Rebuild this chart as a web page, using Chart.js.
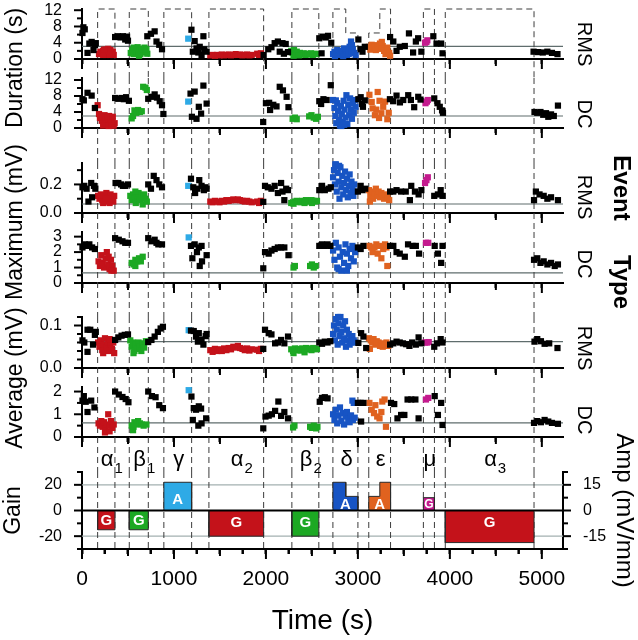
<!DOCTYPE html>
<html>
<head>
<meta charset="utf-8">
<title>Event types</title>
<script src="https://cdn.jsdelivr.net/npm/chart.js@4.4.1/dist/chart.umd.min.js"></script>
<style>
  html, body { margin: 0; padding: 0; background: #fff; }
  #fig { position: relative; width: 638px; height: 640px; overflow: hidden; background: #fff;
         font-family: "Liberation Sans", Arial, Helvetica, sans-serif; color: #000; }
  #fig canvas { position: absolute; left: 0; }
  .lab { position: absolute; white-space: nowrap; line-height: 1; }
  .rot-l { transform: translate(-50%, -50%) rotate(-90deg); }
  .rot-r { transform: translate(-50%, -50%) rotate(90deg); }
  .greek { position: absolute; font-size: 22px; line-height: 22px; white-space: nowrap; }
  .greek sub { font-size: 15px; vertical-align: -7px; margin-left: 1px; }
</style>
</head>
<body>
<div id="fig">
  <canvas id="p0"></canvas>
  <canvas id="p1"></canvas>
  <canvas id="p2"></canvas>
  <canvas id="p3"></canvas>
  <canvas id="p4"></canvas>
  <canvas id="p5"></canvas>
  <canvas id="p6"></canvas>

  <div class="lab rot-l" style="left:14px;top:68px;font-size:23px">Duration (s)</div>
  <div class="lab rot-l" style="left:14px;top:222px;font-size:23px">Maximum (mV)</div>
  <div class="lab rot-l" style="left:14px;top:378px;font-size:23px">Average (mV)</div>

  <div class="lab rot-r" style="left:585px;top:44px;font-size:20px">RMS</div>
  <div class="lab rot-r" style="left:585px;top:114px;font-size:20px">DC</div>
  <div class="lab rot-r" style="left:585px;top:197px;font-size:20px">RMS</div>
  <div class="lab rot-r" style="left:585px;top:264px;font-size:20px">DC</div>
  <div class="lab rot-r" style="left:585px;top:348px;font-size:20px">RMS</div>
  <div class="lab rot-r" style="left:585px;top:420px;font-size:20px">DC</div>

  <div class="lab rot-r" style="left:622px;top:188px;font-size:24px;font-weight:bold">Event</div>
  <div class="lab rot-r" style="left:622px;top:282px;font-size:24px;font-weight:bold">Type</div>
</div>

<script>
// ---- data ----
const TIME_MAX = 5230;

const EVENT_NAMES = ['α', 'β', 'γ', 'α', 'β', 'δ', 'ε', 'μ', 'α'];
const EVENT_SUBS = ['1', '1', '', '2', '2', '', '', '', '3'];
const EVENT_TYPES = ['G', 'G', 'A', 'G', 'G', 'A', 'A', 'G', 'G'];
// [start s, end s, gain]
const EVENT_SEGMENTS = [
  [[170, 358, -15]],
  [[514, 721, -15]],
  [[890, 1192, 22]],
  [[1380, 1975, -20]],
  [[2282, 2575, -20]],
  [[2728, 2868, 22], [2868, 3000, 11]],
  [[3118, 3238, 11], [3238, 3355, 22]],
  [[3712, 3832, 10]],
  [[3950, 4915, -25]]
];
// top of the dashed event boxes, in Duration (s)
const EVENT_BOX_TOP = [[12.3], [12.3], [12.3], [12.3], [12.3], [12.3, 6.4], [6.4, 12.3], [12.3], [12.3]];

const THRESHOLDS = [3.1, 3.0, 0.063, 0.65, 0.062, 0.62];
const GAIN_REF = [20, -20];

const TIME_TICK_LABELS = ['0', '1000', '2000', '3000', '4000', '5000'];
const DUR_TICK_LABELS = ['0', '4', '8', '12'];
const MAX_RMS_TICK_LABELS = ['0.0', '0.2'];
const MAX_DC_TICK_LABELS = ['0', '1', '2', '3'];
const AVG_RMS_TICK_LABELS = ['0.0', '0.1'];
const AVG_DC_TICK_LABELS = ['0', '1', '2'];
const GAIN_TICK_LABELS = ['-20', '0', '20'];
const AMP_TICK_LABELS = ['-15', '0', '15'];

// Duration, RMS
const durRmsOther = [
  [5,6.4],[15,7.8],[30,7.3],[60,1.5],[80,3.8],[105,4.2],[125,2.2],[140,3.4],[150,3.9],
  [360,5.4],[390,5.6],[420,5.3],[445,5.6],[470,4.8],[490,5.5],[500,4.5],
  [710,5.6],[750,6.2],[790,6.8],[810,4.3],[840,3.5],[870,2.4],
  [1190,7.2],[1225,4.4],[1205,1.8],[1245,2.6],[1280,3.0],[1300,1.0],[1320,5.6],[1330,2.4],[1355,1.8],[1265,1.6],
  [1975,1.0],[2025,2.4],[2060,2.9],[2095,3.9],[2130,4.3],[2180,3.9],[2215,3.7],[2150,1.8],[2195,1.3],[2240,1.7],
  [2580,5.1],[2615,5.5],[2650,5.3],[2675,5.7],[2710,4.0],[2605,1.4],
  [3005,4.8],[3030,2.4],[3050,1.8],[3075,3.0],
  [3350,5.4],[3385,4.3],[3420,2.0],[3455,3.0],[3510,3.2],[3555,6.3],[3600,1.6],[3630,4.3],[3655,5.1],[3690,1.8],
  [3820,5.6],[3855,3.8],[3905,3.8],[3920,1.4],
  [4910,1.8],[4960,1.7],[5010,1.6],[5060,1.8],[5110,1.5],[5170,1.2]
];
const durRmsEvents = [
  [[185,1.2],[200,1.8],[215,1.4],[230,2.0],[245,1.6],[260,2.3],[275,1.9],[285,2.5],[300,1.5],[310,2.2],[320,1.3],[335,1.8],[345,1.0],[260,1.0],[300,1.0],[230,1.0],[290,2.0],[240,2.3]],
  [[530,1.5],[545,2.2],[560,1.2],[575,2.6],[590,1.8],[605,2.9],[620,2.0],[635,1.2],[650,2.5],[665,1.6],[680,2.8],[695,1.9],[710,1.3],[560,2.8],[620,0.8],[700,2.4]],
  [[1155,5.0]],
  [[1395,0.9],[1420,1.0],[1445,0.8],[1470,1.0],[1495,0.9],[1520,1.1],[1545,0.9],[1570,1.0],[1595,1.1],[1620,0.9],[1645,1.0],[1670,1.2],[1695,1.0],[1720,1.1],[1745,0.9],[1770,1.0],[1795,1.1],[1820,0.9],[1845,1.0],[1905,1.3],[1925,1.0],[1945,1.4]],
  [[2275,2.0],[2290,1.5],[2305,2.2],[2320,1.3],[2335,1.8],[2350,1.2],[2370,1.5],[2390,1.1],[2410,1.4],[2430,1.0],[2450,1.3],[2470,1.1],[2490,1.4],[2510,1.0],[2530,1.3],[2550,1.2],[2300,0.8],[2360,0.9]],
  [[2730,1.2],[2745,1.8],[2760,1.0],[2775,2.2],[2790,1.5],[2805,1.0],[2820,2.0],[2835,1.3],[2850,2.6],[2865,1.6],[2880,1.0],[2895,2.1],[2910,3.0],[2925,4.3],[2935,3.4],[2945,2.4],[2960,1.5],[2975,1.0],[2750,0.7],[2840,0.7],[2900,1.2],[2930,1.8]],
  [[3120,3.0],[3135,2.3],[3150,3.5],[3165,2.6],[3180,3.1],[3195,2.2],[3210,3.4],[3225,2.7],[3240,3.8],[3255,2.5],[3270,3.2],[3285,2.0],[3300,1.2],[3320,2.8],[3340,1.5],[3350,0.8],[3260,4.2]],
  [[3730,4.0],[3755,4.6],[3745,4.2]],
  []
];

// Duration, DC
const durDcOther = [
  [5,7.2],[20,6.9],[60,8.8],[105,8.1],[140,5.0],
  [360,7.5],[395,7.3],[430,7.5],[455,7.2],[480,7.7],[510,6.8],
  [720,7.3],[755,7.8],[790,8.4],[815,7.6],[845,6.7],[870,5.7],[885,3.5],
  [1180,8.6],[1225,9.1],[1320,10.6],[1195,2.8],[1245,2.3],[1270,5.3],[1295,3.6],[1355,6.1],
  [1970,1.5],[2000,6.2],[2035,6.3],[2045,4.5],[2080,5.8],[2115,5.4],[2150,10.3],[2185,9.4],[2225,7.8],[2245,5.2],
  [2580,6.7],[2600,6.0],[2625,7.2],[2660,7.0],[2705,10.7],
  [3005,7.2],[3030,7.7],[3055,5.3],[3075,6.9],[3045,6.0],
  [3348,7.2],[3384,6.7],[3420,8.1],[3457,6.4],[3493,7.0],[3547,8.2],[3576,7.0],[3612,5.2],[3656,7.8],[3681,7.1],
  [3830,7.4],[3865,6.2],[3890,5.3],[3915,4.4],[3925,3.8],
  [4920,4.0],[4950,3.8],[4985,4.0],[5015,3.3],[5045,3.7],[5070,2.8],[5100,3.4],[5130,3.0],[5175,5.6]
];
const durDcEvents = [
  [[170,5.7],[185,3.5],[195,2.5],[205,3.0],[215,1.8],[225,2.8],[235,1.2],[245,3.2],[255,2.0],[265,1.0],[275,2.6],[285,1.6],[295,3.0],[305,0.8],[315,2.2],[325,1.4],[335,2.8],[345,0.6],[355,1.2],[230,0.6],[290,0.5],[320,0.6]],
  [[540,2.4],[555,3.0],[570,4.4],[590,3.8],[610,4.5],[630,4.0],[650,4.2],[665,10.3],[690,10.1],[705,9.5]],
  [[1155,6.6]],
  [],
  [[2290,2.3],[2315,2.6],[2335,2.2],[2470,2.9],[2495,3.2],[2520,2.6],[2545,2.3],[2565,2.8]],
  [[2730,7.0],[2745,5.0],[2755,3.0],[2765,1.2],[2775,6.2],[2785,4.2],[2795,2.0],[2805,0.6],[2815,5.5],[2825,3.5],[2835,1.5],[2845,6.8],[2855,4.6],[2865,2.6],[2875,8.2],[2885,1.0],[2895,5.8],[2905,3.2],[2915,7.4],[2925,4.6],[2935,2.3],[2945,6.2],[2955,3.8],[2965,7.0],[2975,5.3],[2760,6.9],[2820,0.5],[2850,0.8]],
  [[3125,8.3],[3150,6.5],[3160,4.9],[3185,3.2],[3200,4.6],[3215,9.0],[3235,6.8],[3255,3.7],[3275,5.3],[3295,6.6],[3320,2.2],[3335,3.8],[3230,2.5]],
  [[3735,6.2],[3760,7.0],[3750,6.6]],
  []
];

// Maximum, RMS
const maxRmsOther = [
  [5,0.18],[25,0.19],[50,0.17],[70,0.08],[100,0.21],[110,0.11],[130,0.19],[145,0.17],
  [365,0.21],[395,0.21],[425,0.20],[445,0.19],[470,0.19],[500,0.20],
  [720,0.20],[750,0.17],[780,0.26],[810,0.23],[840,0.20],[870,0.18],
  [1185,0.24],[1210,0.18],[1230,0.14],[1255,0.17],[1275,0.23],[1300,0.19],[1325,0.16],[1355,0.17],[1340,0.18],
  [1971,0.078],
  [1990,0.19],[2020,0.18],[2060,0.17],[2095,0.19],[2130,0.14],[2165,0.21],[2180,0.15],[2200,0.09],[2240,0.16],[2220,0.17],
  [2580,0.16],[2610,0.19],[2640,0.16],[2680,0.17],[2705,0.18],
  [3000,0.15],[3030,0.19],[3050,0.16],[3080,0.17],
  [3350,0.15],[3385,0.15],[3420,0.16],[3470,0.15],[3520,0.15],[3565,0.09],[3580,0.19],[3620,0.15],[3660,0.13],[3690,0.16],
  [3830,0.12],[3870,0.13],[3900,0.16],[3920,0.12],
  [4915,0.09],[4935,0.15],[4975,0.13],[5020,0.12],[5060,0.10],[5100,0.11],[5175,0.09]
];
const maxRmsEvents = [
  [[175,0.12],[190,0.10],[205,0.13],[220,0.09],[235,0.12],[250,0.08],[265,0.14],[280,0.11],[295,0.09],[310,0.13],[325,0.10],[340,0.08],[350,0.12],[230,0.07],[300,0.07],[260,0.10]],
  [[525,0.12],[540,0.09],[555,0.13],[570,0.10],[585,0.07],[600,0.12],[615,0.14],[630,0.09],[645,0.11],[660,0.06],[675,0.13],[690,0.10],[705,0.08],[580,0.15]],
  [[1155,0.19]],
  [[1395,0.08],[1420,0.075],[1445,0.085],[1470,0.08],[1495,0.075],[1520,0.085],[1545,0.08],[1570,0.09],[1595,0.085],[1620,0.09],[1645,0.095],[1670,0.09],[1695,0.095],[1720,0.09],[1745,0.085],[1770,0.08],[1795,0.085],[1820,0.08],[1845,0.075],[1905,0.08],[1925,0.07],[1945,0.085]],
  [[2275,0.07],[2295,0.075],[2315,0.08],[2335,0.085],[2355,0.08],[2375,0.075],[2395,0.085],[2415,0.08],[2435,0.09],[2455,0.085],[2475,0.08],[2495,0.09],[2515,0.085],[2535,0.08],[2555,0.085],[2300,0.065],[2420,0.07],[2500,0.07]],
  [[2730,0.25],[2740,0.30],[2750,0.20],[2760,0.34],[2770,0.15],[2780,0.28],[2790,0.22],[2800,0.10],[2810,0.32],[2820,0.18],[2830,0.26],[2840,0.13],[2850,0.21],[2860,0.29],[2870,0.16],[2880,0.24],[2890,0.11],[2900,0.19],[2910,0.27],[2920,0.14],[2930,0.22],[2940,0.17],[2950,0.12],[2960,0.20],[2970,0.15],[2755,0.34],[2795,0.33]],
  [[3120,0.16],[3135,0.12],[3150,0.15],[3165,0.10],[3180,0.14],[3195,0.17],[3210,0.12],[3225,0.15],[3240,0.11],[3255,0.14],[3270,0.12],[3285,0.10],[3300,0.13],[3320,0.11],[3340,0.09],[3130,0.08]],
  [[3730,0.21],[3760,0.25],[3745,0.23]],
  []
];

// Maximum, DC
const maxDcOther = [
  [5,2.3],[30,2.5],[55,2.4],[80,2.5],[110,2.3],[140,2.2],
  [360,2.9],[400,2.8],[440,2.7],[470,2.6],[500,2.6],
  [720,2.9],[755,2.7],[790,2.8],[810,2.6],[830,2.5],[870,2.5],
  [1185,2.4],[1225,2.5],[1200,1.6],[1250,2.0],[1270,2.3],[1300,2.4],[1280,1.1],[1305,1.4],[1355,1.8],
  [1971,0.95],
  [1990,2.0],[2030,1.9],[2060,2.1],[2095,2.2],[2130,2.3],[2165,2.3],[2200,2.3],[2245,1.8],
  [2580,2.4],[2610,2.5],[2640,2.4],[2670,2.5],[2700,2.4],
  [3000,2.3],[3030,2.2],[3060,2.4],
  [3350,2.4],[3385,2.4],[3420,2.0],[3455,1.9],[3510,1.7],[3545,2.5],[3595,2.4],[3630,2.4],[3665,1.9],
  [3835,2.4],[3870,1.9],[3905,1.3],[3920,2.4],
  [4915,1.5],[4950,1.6],[4985,1.3],[5020,1.4],[5060,1.2],[5100,1.3],[5140,1.1],[5175,1.2]
];
const maxDcEvents = [
  [[180,1.4],[195,1.1],[210,1.8],[225,1.3],[240,1.0],[255,1.6],[270,2.0],[285,1.2],[300,0.9],[315,1.5],[330,1.1],[345,0.8],[215,1.2],[290,1.7],[320,0.8]],
  [[540,1.3],[560,1.2],[580,1.5],[600,1.4],[620,1.6],[640,1.4],[660,1.7],[580,1.1]],
  [[1160,2.95]],
  [],
  [[2300,1.0],[2315,1.1],[2480,1.1],[2500,1.2],[2520,1.0],[2540,1.1]],
  [[2730,2.1],[2745,1.5],[2760,2.6],[2775,1.0],[2790,2.3],[2805,1.7],[2820,0.8],[2835,2.0],[2850,1.3],[2865,2.5],[2880,1.9],[2895,1.1],[2910,2.2],[2925,1.6],[2940,2.4],[2955,1.4],[2970,2.0],[2790,0.9],[2880,0.8]],
  [[3125,2.4],[3145,2.3],[3160,2.0],[3180,2.3],[3200,2.5],[3215,1.9],[3235,2.4],[3255,1.6],[3275,2.2],[3295,2.5],[3320,1.1],[3310,2.3]],
  [[3740,2.6],[3765,2.6]],
  []
];

// Average, RMS
const avgRmsOther = [
  [5,0.065],[25,0.06],[60,0.09],[90,0.09],[60,0.038],[120,0.055],[140,0.078],[150,0.085],
  [360,0.066],[395,0.072],[430,0.076],[465,0.078],[500,0.079],
  [720,0.061],[755,0.066],[790,0.074],[825,0.085],[855,0.093],[880,0.097],
  [1185,0.088],[1215,0.087],[1240,0.074],[1270,0.082],[1260,0.062],[1300,0.067],[1320,0.055],[1345,0.075],[1355,0.08],
  [1971,0.045],
  [1990,0.09],[2030,0.082],[2060,0.079],[2100,0.058],[2130,0.06],[2165,0.066],[2200,0.058],[2240,0.074],
  [2580,0.06],[2610,0.057],[2640,0.062],[2670,0.06],[2700,0.063],
  [3005,0.059],[3035,0.082],[3060,0.074],[3090,0.047],
  [3350,0.055],[3385,0.058],[3420,0.062],[3455,0.06],[3490,0.058],[3525,0.056],[3560,0.052],[3590,0.06],[3630,0.055],[3660,0.072],[3690,0.058],
  [3830,0.05],[3860,0.058],[3900,0.068],[3920,0.06],
  [4920,0.062],[4950,0.068],[4990,0.063],[5030,0.057],[5080,0.058],[5170,0.047]
];
const avgRmsEvents = [
  [[175,0.06],[190,0.05],[205,0.065],[220,0.042],[235,0.055],[250,0.07],[265,0.048],[280,0.06],[295,0.04],[310,0.055],[325,0.045],[340,0.06],[350,0.035],[230,0.035],[300,0.068]],
  [[525,0.065],[540,0.05],[555,0.06],[570,0.04],[585,0.055],[600,0.045],[615,0.06],[630,0.05],[645,0.04],[660,0.058],[675,0.048],[695,0.063],[560,0.035]],
  [[1160,0.089]],
  [[1395,0.042],[1420,0.038],[1445,0.045],[1470,0.04],[1495,0.044],[1520,0.04],[1545,0.046],[1570,0.042],[1595,0.047],[1620,0.044],[1645,0.05],[1670,0.048],[1695,0.052],[1720,0.047],[1745,0.045],[1770,0.042],[1795,0.046],[1820,0.041],[1845,0.044],[1905,0.043],[1925,0.04],[1945,0.045]],
  [[2275,0.044],[2295,0.04],[2315,0.046],[2335,0.042],[2355,0.045],[2375,0.041],[2395,0.046],[2415,0.043],[2435,0.047],[2455,0.044],[2475,0.046],[2495,0.042],[2515,0.047],[2535,0.044],[2555,0.045],[2300,0.035],[2420,0.037]],
  [[2730,0.08],[2740,0.10],[2750,0.065],[2760,0.115],[2770,0.09],[2780,0.055],[2790,0.105],[2800,0.075],[2810,0.12],[2820,0.085],[2830,0.06],[2840,0.10],[2850,0.07],[2860,0.11],[2870,0.05],[2880,0.09],[2890,0.065],[2900,0.08],[2910,0.055],[2920,0.07],[2930,0.06],[2940,0.075],[2955,0.065],[2970,0.06],[2785,0.12]],
  [[3120,0.07],[3140,0.065],[3155,0.06],[3170,0.068],[3190,0.055],[3205,0.063],[3225,0.06],[3240,0.052],[3255,0.058],[3270,0.05],[3290,0.055],[3310,0.06],[3330,0.052],[3130,0.045]],
  [[3730,0.06],[3750,0.06],[3770,0.061]],
  []
];

// Average, DC
const avgDcOther = [
  [5,1.6],[20,1.8],[40,1.55],[60,1.1],[100,1.6],[135,1.3],
  [360,2.0],[400,1.87],[440,1.76],[475,1.67],[505,1.53],
  [720,2.0],[760,1.8],[800,1.75],[840,1.4],[880,1.27],
  [1190,1.78],[1215,1.27],[1240,1.2],[1270,1.35],[1295,1.25],[1205,0.75],[1265,0.5],[1300,0.6],[1350,0.82],
  [1971,0.38],
  [1995,0.9],[2030,0.94],[2065,1.0],[2100,1.15],[2135,1.56],[2165,0.93],[2200,1.1],[2240,0.82],
  [2585,1.55],[2610,1.72],[2640,1.75],[2670,1.7],
  [3000,1.5],[3030,1.5],[3060,1.5],[3035,0.68],
  [3360,1.5],[3395,1.45],[3430,0.82],[3470,0.97],[3505,0.97],[3540,1.65],[3580,1.65],[3625,1.65],[3660,0.82],
  [3835,1.8],[3870,0.97],[3905,1.5],[3920,0.53],
  [4915,0.62],[4950,0.7],[4990,0.65],[5030,0.75],[5070,0.68],[5110,0.62],[5175,0.58]
];
const avgDcEvents = [
  [[180,0.6],[195,0.5],[210,0.7],[225,0.45],[240,0.65],[255,0.35],[270,0.55],[285,1.0],[300,0.5],[315,0.7],[330,0.4],[345,0.55],[250,0.2],[300,0.25]],
  [[540,0.5],[555,0.3],[570,0.65],[590,0.55],[610,0.7],[630,0.6],[650,0.55],[670,0.5],[700,0.55],[560,0.45]],
  [[1160,2.06]],
  [],
  [[2295,0.42],[2310,0.5],[2480,0.45],[2500,0.4],[2520,0.5],[2545,0.38],[2560,0.45]],
  [[2730,1.0],[2745,0.75],[2760,1.2],[2775,0.6],[2790,0.95],[2805,1.3],[2820,0.7],[2835,1.05],[2850,0.55],[2865,0.9],[2880,1.1],[2895,0.8],[2910,0.65],[2925,0.95],[2940,1.6],[2955,1.5],[2945,0.75],[2965,0.85]],
  [[3125,1.5],[3150,1.2],[3175,1.05],[3210,0.9],[3235,0.82],[3265,1.56],[3290,1.65],[3305,0.45],[3190,1.4],[3255,1.1]],
  [[3740,1.65],[3765,1.72]],
  []
];

// ---- styles / layout ----
const FONT = '"Liberation Sans", Arial, Helvetica, sans-serif';
const RED = '#c4121a', GREEN = '#1ca823', SKY = '#2eaae6', BLUE = '#1754c4', ORANGE = '#e0621f', MAGENTA = '#c41a8e';
const EVENT_COLORS = [RED, GREEN, SKY, RED, GREEN, BLUE, ORANGE, MAGENTA, RED];

const PANELS = [
  { top: 9,   bottom: 59,  min: 0, max: 12.3, step: 2,   labels: DUR_TICK_LABELS,     other: durRmsOther, events: durRmsEvents, thr: THRESHOLDS[0], boxes: true },
  { top: 78,  bottom: 128, min: 0, max: 12.5, step: 2,   labels: DUR_TICK_LABELS,     other: durDcOther,  events: durDcEvents,  thr: THRESHOLDS[1] },
  { top: 163, bottom: 213, min: 0, max: 0.35, step: 0.1, labels: MAX_RMS_TICK_LABELS, other: maxRmsOther, events: maxRmsEvents, thr: THRESHOLDS[2] },
  { top: 232, bottom: 283, min: 0, max: 3.3,  step: 0.5, labels: MAX_DC_TICK_LABELS,  other: maxDcOther,  events: maxDcEvents,  thr: THRESHOLDS[3] },
  { top: 317, bottom: 368, min: 0, max: 0.12, step: 0.02,labels: AVG_RMS_TICK_LABELS, other: avgRmsOther, events: avgRmsEvents, thr: THRESHOLDS[4] },
  { top: 387, bottom: 437, min: 0, max: 2.2,  step: 0.5, labels: AVG_DC_TICK_LABELS,  other: avgDcOther,  events: avgDcEvents,  thr: THRESHOLDS[5] },
  { top: 472, bottom: 549, min: -30, max: 30, step: 10,  labels: GAIN_TICK_LABELS, gain: true }
];

const labelFor = (labels) => (v) => {
  const s = labels.find(l => Math.abs(parseFloat(l) - v) < 1e-9);
  return s === undefined ? '' : s;
};

// longer marks on labelled / round ticks
const tickMarks = {
  id: 'tickMarks',
  afterDraw(chart) {
    const ctx = chart.ctx;
    ctx.save();
    ctx.strokeStyle = '#000';
    ctx.lineWidth = 2;
    Object.values(chart.scales).forEach(scale => {
      scale.ticks.forEach(t => {
        const p = scale.getPixelForValue(t.value);
        ctx.beginPath();
        if (scale.isHorizontal()) {
          const len = t.value % 1000 === 0 ? 10 : (t.value % 500 === 0 ? 7 : 5);
          ctx.moveTo(p, scale.top); ctx.lineTo(p, scale.top + len);
        } else {
          const len = t.label ? 8 : 5;
          if (scale.position === 'left') { ctx.moveTo(scale.right - len, p); ctx.lineTo(scale.right, p); }
          else { ctx.moveTo(scale.left, p); ctx.lineTo(scale.left + len, p); }
        }
        ctx.stroke();
      });
    });
    ctx.restore();
  }
};

// dashed event boundaries, threshold lines
const eventLines = {
  id: 'eventLines',
  beforeDatasetsDraw(chart, args, opts) {
    const { ctx, chartArea, scales } = chart;
    const x = scales.x, y = scales.y;
    ctx.save();
    ctx.strokeStyle = opts.gain ? '#a3b0b0' : '#5f6d6d';
    ctx.lineWidth = 1.2;
    opts.refs.forEach(v => {
      const py = y.getPixelForValue(v);
      ctx.beginPath(); ctx.moveTo(chartArea.left, py); ctx.lineTo(chartArea.right, py); ctx.stroke();
    });
    ctx.strokeStyle = '#3c3c3c';
    ctx.lineWidth = 1;
    ctx.setLineDash([6, 4]);
    const yEnd = opts.gain ? chartArea.bottom : chart.height;
    EVENT_SEGMENTS.forEach((segs, i) => {
      const first = segs[0], last = segs[segs.length - 1];
      if (opts.boxes) {
        ctx.beginPath();
        ctx.moveTo(x.getPixelForValue(first[0]), yEnd);
        segs.forEach((s, k) => {
          const py = y.getPixelForValue(EVENT_BOX_TOP[i][k]);
          ctx.lineTo(x.getPixelForValue(s[0]), py);
          ctx.lineTo(x.getPixelForValue(s[1]), py);
        });
        ctx.lineTo(x.getPixelForValue(last[1]), yEnd);
        ctx.stroke();
      } else {
        [first[0], last[1]].forEach(t => {
          const px = x.getPixelForValue(t);
          ctx.beginPath(); ctx.moveTo(px, chartArea.top); ctx.lineTo(px, yEnd); ctx.stroke();
        });
      }
    });
    ctx.restore();
  },
  afterDatasetsDraw(chart, args, opts) {
    if (!opts.gain) return;
    const { ctx, chartArea, scales } = chart;
    const x = scales.x, y = scales.y;
    ctx.save();
    ctx.strokeStyle = '#000';
    ctx.lineWidth = 2;
    const y0 = y.getPixelForValue(0);
    ctx.beginPath(); ctx.moveTo(chartArea.left, y0); ctx.lineTo(chartArea.right, y0); ctx.stroke();
    // G / A labels in the gain bars
    ctx.fillStyle = '#fff';
    ctx.textAlign = 'center';
    ctx.textBaseline = 'middle';
    EVENT_SEGMENTS.forEach((segs, i) => {
      const mid = (segs[0][0] + segs[segs.length - 1][1]) / 2;
      const gMin = segs.reduce((m, s) => Math.abs(s[2]) < Math.abs(m) ? s[2] : m, segs[0][2]);
      const ly = Math.sign(gMin) * Math.min(Math.abs(gMin) / 2, 9);
      ctx.font = 'bold ' + (Math.abs(gMin) < 12 && EVENT_TYPES[i] === 'G' && gMin > 0 ? 12 : 15) + 'px ' + FONT;
      ctx.fillText(EVENT_TYPES[i], x.getPixelForValue(mid), y.getPixelForValue(ly) + 1);
    });
    ctx.restore();
  }
};

function buildPanel(i, p) {
  const canvas = document.getElementById('p' + i);
  const gain = !!p.gain;
  const cTop = p.top - (gain ? 52 : 16);
  const cBottom = i < PANELS.length - 1 ? PANELS[i + 1].top : 640;
  canvas.width = 638;
  canvas.height = cBottom - cTop;
  canvas.style.top = cTop + 'px';
  const xStep = gain ? 250 : 500;

  const datasets = [];
  if (gain) {
    EVENT_SEGMENTS.forEach((segs, k) => {
      const pts = [{ x: segs[0][0], y: 0 }];
      segs.forEach(s => { pts.push({ x: s[0], y: s[2] }, { x: s[1], y: s[2] }); });
      pts.push({ x: segs[segs.length - 1][1], y: 0 });
      datasets.push({
        type: 'line', data: pts, borderColor: '#2a2a2a', borderWidth: 1,
        backgroundColor: EVENT_COLORS[k], fill: 'origin', pointRadius: 0, tension: 0
      });
    });
  } else {
    const pointDs = (pts, color) => ({
      type: 'scatter', data: pts.map(([x, y]) => ({ x, y })),
      pointStyle: 'rect', pointRadius: 4.4, borderWidth: 0,
      backgroundColor: color, borderColor: color, clip: false
    });
    datasets.push(pointDs(p.other, '#000'));
    p.events.forEach((pts, k) => { if (pts.length) datasets.push(pointDs(pts, EVENT_COLORS[k])); });
  }

  const yTicks = {
    stepSize: p.step, includeBounds: false, autoSkip: false, padding: 3, color: '#000',
    font: { size: 16, family: FONT }, callback: labelFor(p.labels)
  };
  const hiddenTickGrid = { display: true, drawOnChartArea: false, drawTicks: true, tickLength: 17, tickColor: 'rgba(0,0,0,0)' };

  const scales = {
    x: {
      type: 'linear', min: 0, max: TIME_MAX, position: 'bottom',
      afterBuildTicks: s => {
        const out = [];
        for (let v = 0; v <= TIME_MAX; v += xStep) out.push({ value: v });
        s.ticks = out;
      },
      afterFit: s => { s.height = cBottom - p.bottom; },
      border: { display: true, color: '#000', width: 2 },
      grid: { display: true, drawOnChartArea: false, drawTicks: true, tickLength: 5, tickColor: '#000', tickWidth: 2 },
      ticks: {
        stepSize: xStep, autoSkip: false, maxRotation: 0,
        display: gain, padding: 13, color: '#000', font: { size: 21, family: FONT },
        callback: labelFor(TIME_TICK_LABELS)
      },
      title: gain ? { display: true, text: 'Time (s)', color: '#000', font: { size: 28, family: FONT }, padding: { top: 0, bottom: 2 } } : { display: false }
    },
    y: {
      type: 'linear', position: 'left', min: p.min, max: p.max,
      afterFit: s => { s.width = 82; },
      border: { display: true, color: '#000', width: 2 },
      grid: hiddenTickGrid,
      ticks: yTicks,
      title: gain ? { display: true, text: 'Gain', color: '#000', font: { size: 23, family: FONT }, padding: 0 } : { display: false }
    }
  };
  if (gain) {
    scales.y2 = {
      type: 'linear', position: 'right', min: -22.5, max: 22.5,
      afterFit: s => { s.width = 75; },
      border: { display: true, color: '#000', width: 2 },
      grid: hiddenTickGrid,
      ticks: { stepSize: 7.5, includeBounds: false, autoSkip: false, padding: 3, color: '#000',
               font: { size: 16, family: FONT }, callback: labelFor(AMP_TICK_LABELS) },
      title: { display: true, text: 'Amp (mV/mm)', color: '#000', font: { size: 24, family: FONT }, padding: 0 }
    };
  }

  return new Chart(canvas.getContext('2d'), {
    data: { datasets },
    options: {
      responsive: false,
      animation: false,
      layout: { autoPadding: false, padding: { top: p.top - cTop, right: gain ? 0 : 75, bottom: 0, left: 0 } },
      scales,
      plugins: {
        legend: { display: false },
        tooltip: { enabled: false },
        eventLines: { gain, boxes: !!p.boxes, refs: gain ? GAIN_REF : [p.thr] }
      }
    },
    plugins: [eventLines, tickMarks]
  });
}

const charts = PANELS.map((p, i) => buildPanel(i, p));

// event names above the gain panel, placed with the time scale
const gainX = charts[charts.length - 1].scales.x;
const fig = document.getElementById('fig');
EVENT_SEGMENTS.forEach((segs, i) => {
  const mid = (segs[0][0] + segs[segs.length - 1][1]) / 2;
  const d = document.createElement('div');
  d.className = 'greek';
  const main = document.createElement('span');
  main.textContent = EVENT_NAMES[i];
  d.appendChild(main);
  if (EVENT_SUBS[i]) {
    const sub = document.createElement('sub');
    sub.textContent = EVENT_SUBS[i];
    d.appendChild(sub);
  }
  fig.appendChild(d);
  d.style.left = (gainX.getPixelForValue(mid) - main.offsetWidth / 2 + 1) + 'px';
  d.style.top = '448px';
});
</script>
</body>
</html>
